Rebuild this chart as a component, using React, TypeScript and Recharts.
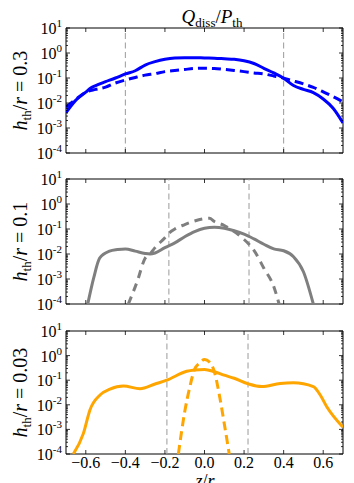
import React from "react";
import { LineChart, Line, XAxis, YAxis, ReferenceLine, ReferenceArea, Customized } from "recharts";

// ---------- data ----------
const xTicks = [-0.6, -0.4, -0.2, 0, 0.2, 0.4, 0.6];
const xTickLabels = ["\u22120.6", "\u22120.4", "\u22120.2", "0.0", "0.2", "0.4", "0.6"];
const yMajorTicks = [1e-4, 1e-3, 1e-2, 1e-1, 1, 10];
const yMajorExp = ["-4", "-3", "-2", "-1", "0", "1"];

// panel 1 : h_th/r = 0.3
const p1Solid = [
  { z: -0.7, v: 4.1e-3 }, { z: -0.65, v: 1.3e-2 }, { z: -0.6, v: 2.7e-2 }, { z: -0.575, v: 4.0e-2 },
  { z: -0.55, v: 5.0e-2 }, { z: -0.5, v: 7.1e-2 }, { z: -0.45, v: 0.1 }, { z: -0.4, v: 0.145 },
  { z: -0.35, v: 0.195 }, { z: -0.3, v: 0.33 }, { z: -0.25, v: 0.45 }, { z: -0.2, v: 0.56 },
  { z: -0.15, v: 0.63 }, { z: -0.1, v: 0.65 }, { z: -0.05, v: 0.65 }, { z: 0, v: 0.63 },
  { z: 0.05, v: 0.62 }, { z: 0.1, v: 0.59 }, { z: 0.15, v: 0.56 }, { z: 0.2, v: 0.49 },
  { z: 0.25, v: 0.38 }, { z: 0.3, v: 0.245 }, { z: 0.35, v: 0.16 }, { z: 0.4, v: 0.098 },
  { z: 0.45, v: 0.05 }, { z: 0.5, v: 0.035 }, { z: 0.55, v: 0.026 }, { z: 0.6, v: 0.0145 },
  { z: 0.65, v: 6.2e-3 }, { z: 0.7, v: 1.6e-3 },
];
const p1Dashed = [
  { z: -0.7, v: 6.8e-3 }, { z: -0.65, v: 0.014 }, { z: -0.6, v: 0.027 }, { z: -0.55, v: 0.035 },
  { z: -0.5, v: 0.043 }, { z: -0.45, v: 0.063 }, { z: -0.4, v: 0.083 }, { z: -0.35, v: 0.105 },
  { z: -0.3, v: 0.13 }, { z: -0.25, v: 0.15 }, { z: -0.2, v: 0.18 }, { z: -0.15, v: 0.2 },
  { z: -0.1, v: 0.22 }, { z: -0.05, v: 0.24 }, { z: 0, v: 0.245 }, { z: 0.05, v: 0.24 },
  { z: 0.1, v: 0.22 }, { z: 0.15, v: 0.2 }, { z: 0.2, v: 0.18 }, { z: 0.25, v: 0.16 },
  { z: 0.3, v: 0.145 }, { z: 0.35, v: 0.12 }, { z: 0.4, v: 0.098 }, { z: 0.45, v: 0.076 },
  { z: 0.5, v: 0.058 }, { z: 0.55, v: 0.042 }, { z: 0.6, v: 0.028 }, { z: 0.65, v: 0.018 },
  { z: 0.7, v: 0.011 },
];
const p1Dividers = [-0.4, 0.4];

// panel 2 : h_th/r = 0.1
const p2Solid = [
  { z: -0.59, v: 1e-4 }, { z: -0.56, v: 1.1e-3 }, { z: -0.53, v: 6.8e-3 }, { z: -0.48, v: 0.013 },
  { z: -0.44, v: 0.015 }, { z: -0.4, v: 0.016 }, { z: -0.35, v: 0.013 }, { z: -0.3, v: 0.0105 },
  { z: -0.275, v: 0.01 }, { z: -0.25, v: 0.011 }, { z: -0.2, v: 0.018 }, { z: -0.15, v: 0.028 },
  { z: -0.1, v: 0.049 }, { z: -0.05, v: 0.079 }, { z: 0, v: 0.107 }, { z: 0.05, v: 0.117 },
  { z: 0.1, v: 0.107 }, { z: 0.15, v: 0.085 }, { z: 0.2, v: 0.062 }, { z: 0.25, v: 0.04 },
  { z: 0.3, v: 0.0245 }, { z: 0.35, v: 0.016 }, { z: 0.4, v: 0.0135 }, { z: 0.45, v: 7.8e-3 },
  { z: 0.5, v: 1.95e-3 }, { z: 0.55, v: 1e-4 },
];
const p2Dashed = [
  { z: -0.385, v: 1e-4 }, { z: -0.34, v: 8e-4 }, { z: -0.3, v: 6.8e-3 }, { z: -0.275, v: 0.01 },
  { z: -0.25, v: 0.018 }, { z: -0.2, v: 0.045 }, { z: -0.18, v: 0.068 }, { z: -0.15, v: 0.1 },
  { z: -0.1, v: 0.15 }, { z: -0.05, v: 0.21 }, { z: 0, v: 0.26 }, { z: 0.025, v: 0.27 },
  { z: 0.05, v: 0.2 }, { z: 0.1, v: 0.138 }, { z: 0.15, v: 0.079 }, { z: 0.2, v: 0.038 },
  { z: 0.225, v: 0.0245 }, { z: 0.25, v: 0.014 }, { z: 0.3, v: 2.7e-3 }, { z: 0.35, v: 5e-4 },
  { z: 0.377, v: 1e-4 },
];
const p2Dividers = [-0.18, 0.225];

// panel 3 : h_th/r = 0.03
const p3Solid = [
  { z: -0.663, v: 1e-4 }, { z: -0.612, v: 6.9e-4 }, { z: -0.579, v: 6.2e-3 }, { z: -0.528, v: 0.025 },
  { z: -0.478, v: 0.043 }, { z: -0.41, v: 0.058 }, { z: -0.326, v: 0.045 }, { z: -0.25, v: 0.07 },
  { z: -0.191, v: 0.1 }, { z: -0.09, v: 0.23 }, { z: -0.05, v: 0.26 }, { z: 0, v: 0.275 },
  { z: 0.05, v: 0.22 }, { z: 0.099, v: 0.16 }, { z: 0.15, v: 0.12 }, { z: 0.221, v: 0.071 },
  { z: 0.289, v: 0.055 }, { z: 0.382, v: 0.074 }, { z: 0.449, v: 0.079 }, { z: 0.55, v: 0.055 },
  { z: 0.585, v: 0.025 }, { z: 0.618, v: 8.3e-3 }, { z: 0.7, v: 1.23e-3 },
];
const p3Dashed = [
  { z: -0.132, v: 1e-4 }, { z: -0.1, v: 5.2e-3 }, { z: -0.075, v: 0.05 }, { z: -0.05, v: 0.28 },
  { z: -0.025, v: 0.5 }, { z: 0, v: 0.7 }, { z: 0.025, v: 0.55 }, { z: 0.05, v: 0.22 },
  { z: 0.075, v: 0.025 }, { z: 0.1, v: 1.7e-3 }, { z: 0.125, v: 1e-4 },
];
const p3Dividers = [-0.19, 0.22];

const panelLabels = ["0.3", "0.1", "0.03"];
const colors = ["#0000ff", "#7f7f7f", "#ffa500"];

// ---------- layout ----------
const W = 354;
const PLOT_LEFT = 66;
const PLOT_RIGHT = 343;
const FONT = "'Liberation Serif', 'Times New Roman', serif";

const yMinorTicks: number[] = [];
for (let d = -4; d < 1; d++) {
  for (let m = 2; m <= 9; m++) yMinorTicks.push(m * Math.pow(10, d));
}
const yAllTicks = [...yMajorTicks, ...yMinorTicks].sort((a, b) => a - b);

function makeYTick() {
  return (props: any) => {
    const { y, payload } = props;
    const v = payload.value;
    const idx = yMajorTicks.findIndex((t) => Math.abs(t - v) / t < 1e-6);
    const major = idx >= 0;
    const len = major ? 4 : 2;
    return (
      <g>
        <line x1={PLOT_LEFT} x2={PLOT_LEFT + len} y1={y} y2={y} stroke="#000" strokeWidth={0.8} />
        <line x1={PLOT_RIGHT - len} x2={PLOT_RIGHT} y1={y} y2={y} stroke="#000" strokeWidth={0.8} />
        {major && (
          <text x={62} y={y + 6} textAnchor="end" fontFamily={FONT} fontSize={16} fill="#000">
            10
            <tspan fontSize={11} dy={-7}>{yMajorExp[idx]}</tspan>
          </text>
        )}
      </g>
    );
  };
}

function makeXTick(plotTop: number, plotBottom: number, showLabels: boolean) {
  return (props: any) => {
    const { x, payload } = props;
    const idx = xTicks.findIndex((t) => Math.abs(t - payload.value) < 1e-9);
    return (
      <g>
        <line x1={x} x2={x} y1={plotBottom} y2={plotBottom - 4} stroke="#000" strokeWidth={0.8} />
        <line x1={x} x2={x} y1={plotTop} y2={plotTop + 4} stroke="#000" strokeWidth={0.8} />
        {showLabels && idx >= 0 && (
          <text x={x} y={plotBottom + 14} textAnchor="middle" fontFamily={FONT} fontSize={16} fill="#000">
            {xTickLabels[idx]}
          </text>
        )}
      </g>
    );
  };
}

type PanelProps = {
  top: number;
  height: number;
  mTop: number;
  xAxisH: number;
  solid: { z: number; v: number }[];
  dashed: { z: number; v: number }[];
  dividers: number[];
  color: string;
  label: string;
  dash: string;
  showXLabels: boolean;
  title?: boolean;
  xLabel?: boolean;
};

function Panel(p: PanelProps) {
  const plotTop = p.mTop;
  const plotBottom = p.height - p.xAxisH;
  const cy = (plotTop + plotBottom) / 2;
  return (
    <div style={{ position: "absolute", left: 0, top: p.top }}>
      <LineChart
        width={W}
        height={p.height}
        margin={{ top: p.mTop, bottom: 0, left: 0, right: W - PLOT_RIGHT }}
      >
        <XAxis
          type="number"
          dataKey="z"
          domain={[-0.7, 0.7]}
          ticks={xTicks}
          height={p.xAxisH}
          axisLine={false}
          tickLine={false}
          tick={makeXTick(plotTop, plotBottom, p.showXLabels)}
          allowDataOverflow
          interval={0}
        />
        <YAxis
          type="number"
          dataKey="v"
          scale="log"
          domain={[1e-4, 10]}
          ticks={yAllTicks}
          width={PLOT_LEFT}
          axisLine={false}
          tickLine={false}
          tick={makeYTick()}
          allowDataOverflow
          interval={0}
        />
        {p.dividers.map((d) => (
          <ReferenceLine key={d} x={d} stroke="#9a9a9a" strokeWidth={1} strokeDasharray="6 3.5" />
        ))}
        <Line
          data={p.dashed}
          dataKey="v"
          type="monotone"
          stroke={p.color}
          strokeWidth={3}
          strokeDasharray={p.dash}
          dot={false}
          isAnimationActive={false}
        />
        <Line
          data={p.solid}
          dataKey="v"
          type="monotone"
          stroke={p.color}
          strokeWidth={3}
          dot={false}
          isAnimationActive={false}
        />
        <ReferenceArea x1={-0.7} x2={0.7} y1={1e-4} y2={10} fill="none" stroke="#000" strokeWidth={1} />
        <Customized
          component={() => (
            <g>
              <text
                transform={`translate(27, ${cy}) rotate(-90)`}
                textAnchor="middle"
                fontFamily={FONT}
                fontSize={20}
                fill="#000"
              >
                <tspan fontStyle="italic">h</tspan>
                <tspan fontSize={13} dy={4}>th</tspan>
                <tspan dy={-4}>/</tspan>
                <tspan fontStyle="italic">r</tspan>
                <tspan>{" = "}</tspan>
                <tspan>{p.label}</tspan>
              </text>
              {p.title && (
                <text x={212} y={23} textAnchor="middle" fontFamily={FONT} fontSize={19} fill="#000">
                  <tspan fontStyle="italic">Q</tspan>
                  <tspan fontSize={13} dy={4}>diss</tspan>
                  <tspan dy={-4}>/</tspan>
                  <tspan fontStyle="italic">P</tspan>
                  <tspan fontSize={13} dy={4}>th</tspan>
                </text>
              )}
              {p.xLabel && (
                <text x={205} y={plotBottom + 33} textAnchor="middle" fontFamily={FONT} fontSize={18} fill="#000">
                  <tspan fontStyle="italic">z</tspan>
                  <tspan>/</tspan>
                  <tspan fontStyle="italic">r</tspan>
                </text>
              )}
            </g>
          )}
        />
      </LineChart>
    </div>
  );
}

export default function App() {
  return (
    <div style={{ position: "absolute", left: 0, top: 0, width: W, height: 483, background: "#fff", overflow: "hidden" }}>
      <Panel top={0} height={168} mTop={28} xAxisH={15} solid={p1Solid} dashed={p1Dashed}
        dividers={p1Dividers} color={colors[0]} label={panelLabels[0]} dash="9 5" showXLabels={false} title />
      <Panel top={160} height={158} mTop={19} xAxisH={14} solid={p2Solid} dashed={p2Dashed}
        dividers={p2Dividers} color={colors[1]} label={panelLabels[1]} dash="8 6" showXLabels={false} />
      <Panel top={310} height={173} mTop={21} xAxisH={29} solid={p3Solid} dashed={p3Dashed}
        dividers={p3Dividers} color={colors[2]} label={panelLabels[2]} dash="9 5" showXLabels xLabel />
    </div>
  );
}
